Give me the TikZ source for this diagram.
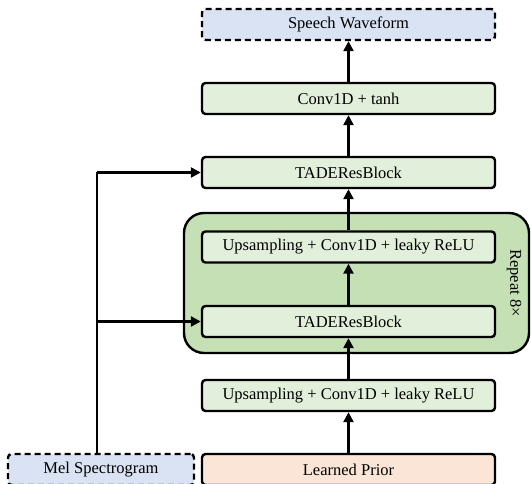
\documentclass[tikz,border=0pt]{standalone}
\usepackage{fontspec}
\setmainfont{Liberation Serif}
\usetikzlibrary{arrows.meta}
\definecolor{blockgreen}{HTML}{E2EFDA}
\definecolor{repeatgreen}{HTML}{C5E0B4}
\definecolor{iofill}{HTML}{DAE3F3}
\definecolor{priorfill}{HTML}{FBE5D6}
\tikzset{
  blk/.style={draw=black, line width=2.4pt, rounded corners=3.5pt, minimum width=293pt,
    minimum height=31pt, inner sep=0pt, font=\fontsize{16.5}{18}\selectfont, fill=blockgreen},
  iobox/.style={blk, fill=iofill, dash pattern=on 6pt off 4pt},
  flow/.style={line width=2.4pt, -{Triangle[length=10pt,width=10pt]}},
}
\begin{document}
\begin{tikzpicture}[x=1pt, y=-1pt]
  \useasboundingbox (0,0) rectangle (531,484);

  % repeated stage container
  \node (rep) [draw=black, line width=2.4pt, rounded corners=20pt, fill=repeatgreen,
    minimum width=345pt, minimum height=140pt, inner sep=0pt] at (356.5,283) {};
  \node (reptext) [rotate=-90, font=\fontsize{16.5}{18}\selectfont] at (514,283) {Repeat 8×};

  % processing chain
  \node (wave)  [iobox] at (348.5,24.5)  {Speech Waveform};
  \node (conv)  [blk]   at (348.5,98.5)  {Conv1D + tanh};
  \node (tade2) [blk]   at (348.5,172.5) {TADEResBlock};
  \node (up2)   [blk]   at (348.5,247)   {Upsampling + Conv1D + leaky ReLU};
  \node (tade1) [blk]   at (348.5,321.5) {TADEResBlock};
  \node (up1)   [blk]   at (348.5,395.5) {Upsampling + Conv1D + leaky ReLU};
  \node (prior) [blk, fill=priorfill] at (348.5,469.5) {Learned Prior};
  \node (mel)   [iobox, minimum width=186pt] at (101,469.5) {Mel Spectrogram};

  \draw[flow] (prior) -- (up1);
  \draw[flow] (up1) -- (tade1);
  \draw[flow] (tade1) -- (up2);
  \draw[flow] (up2) -- (tade2);
  \draw[flow] (tade2) -- (conv);
  \draw[flow] (conv) -- (wave);

  % conditioning branch from the mel spectrogram
  \coordinate (melout) at ([xshift=-4pt]mel.north);
  \coordinate (topturn) at (melout |- tade2.west);
  \coordinate (midturn) at (melout |- tade1.west);
  \draw[line width=2.4pt] (melout) -- (topturn);
  \draw[flow] (topturn) -- (tade2.west);
  \draw[flow] (midturn) -- (tade1.west);
\end{tikzpicture}
\end{document}
